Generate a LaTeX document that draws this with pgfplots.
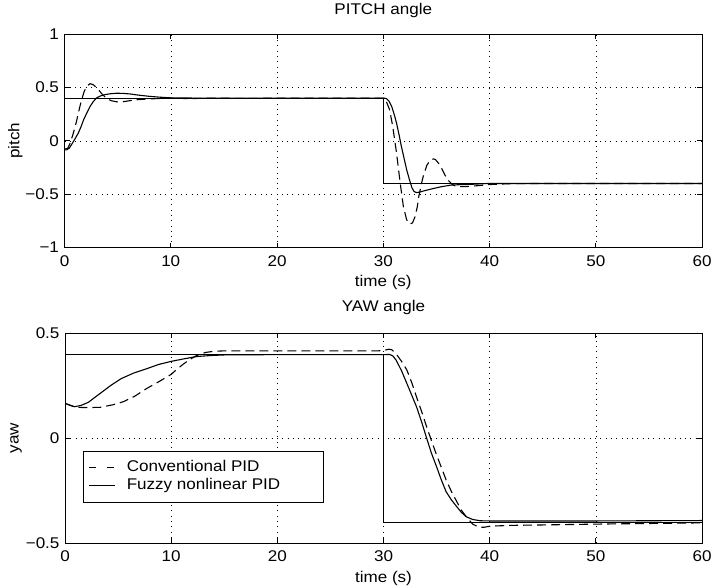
\documentclass[border=0pt]{standalone}
\usepackage{fontspec}
\setmainfont{Liberation Sans}[FakeStretch=1.1]
\usepackage{pgfplots}
\pgfplotsset{compat=1.18}

\pgfplotsset{
  ctrl/.style={
    scale only axis, xmin=0, xmax=60,
    xtick={0,10,20,30,40,50,60}, xticklabels={0,10,20,30,40,50,60},
    grid=major,
    major grid style={black, line width=0.5pt, dash pattern=on 0.8pt off 4.5pt},
    axis line style={black, line width=0.8pt},
    tick style={black, line width=0.8pt}, major tick length=5pt,
    tick align=inside,
    ticklabel style={font=\fontsize{15.5}{17}\selectfont},
    xticklabel style={yshift=-4.5pt},
    yticklabel style={xshift=-2pt},
    label style={font=\fontsize{15.5}{17}\selectfont},
    title style={font=\fontsize{15.5}{17}\selectfont, anchor=center},
    xlabel={time (s)},
    xlabel style={anchor=center},
    ylabel style={anchor=center, at={(axis description cs:-0.0769,0.5)}},
  },
  refline/.style={black, line width=0.8pt},
  pid/.style={black, line width=1.1pt, dash pattern=on 9pt off 5pt},
  fuzzy/.style={black, line width=1.1pt},
}

\begin{document}
\begin{tikzpicture}
\useasboundingbox (0pt,0pt) rectangle (714pt,-586pt);

% ---------- pitch channel ----------
\begin{axis}[ctrl,
  at={(64.5pt,-247.5pt)}, anchor=south west,
  width=637.5pt, height=213.5pt,
  ymin=-1, ymax=1,
  ytick={-1,-0.5,0,0.5,1}, yticklabels={−1,−0.5,0,0.5,1},
  ylabel={pitch},
  title={PITCH angle},
  title style={at={(axis description cs:0.5,1.08)}},
  xlabel style={at={(axis description cs:0.5,-0.1616)}},
]
\addplot[refline] coordinates {(0,0.4) (30,0.4) (30,-0.4) (60,-0.4)};
\addplot[pid] coordinates {
 (0,-0.08) (0.3,-0.07) (0.5,-0.03) (0.8,0.06) (1.1,0.17) (1.4,0.30) (1.6,0.38)
 (1.85,0.46) (2.1,0.51) (2.4,0.535) (2.7,0.525) (3.0,0.50) (3.3,0.465) (3.6,0.43)
 (4.0,0.395) (4.4,0.375) (4.9,0.365) (5.3,0.363) (5.8,0.37) (6.3,0.378) (7.0,0.386)
 (8,0.392) (9,0.396) (10,0.398) (12,0.395) (14,0.40) (16,0.397) (20,0.398) (25,0.40)
 (30,0.40) (30.2,0.39) (30.4,0.34) (30.6,0.29) (30.9,0.13) (31.25,-0.115) (31.6,-0.40)
 (31.9,-0.62) (32.2,-0.74) (32.5,-0.78) (32.75,-0.77) (33.0,-0.71) (33.2,-0.62)
 (33.35,-0.52) (33.6,-0.40) (33.8,-0.32) (34.1,-0.23) (34.4,-0.185) (34.7,-0.17)
 (34.9,-0.175) (35.2,-0.21) (35.5,-0.26) (35.8,-0.32) (36.1,-0.37) (36.5,-0.41)
 (36.9,-0.43) (37.7,-0.43) (39,-0.42) (40,-0.41) (42,-0.402) (45,-0.40) (60,-0.40)
};
\addplot[fuzzy] coordinates {
 (0,-0.085) (0.2,-0.085) (0.45,-0.07) (0.7,-0.03) (1.0,0.02) (1.3,0.072) (1.55,0.13)
 (1.8,0.197) (2.1,0.26) (2.4,0.32) (2.7,0.365) (3.0,0.40) (3.4,0.42) (3.8,0.432)
 (4.3,0.44) (4.9,0.445) (5.5,0.444) (6.2,0.438) (7.0,0.427) (8.1,0.415) (9,0.408)
 (10,0.402) (12,0.40) (30,0.40) (30.3,0.395) (30.55,0.37) (30.8,0.32) (31.05,0.24)
 (31.25,0.166) (31.5,0.05) (31.7,-0.05) (31.95,-0.16) (32.2,-0.27) (32.45,-0.36)
 (32.7,-0.44) (32.9,-0.475) (33.1,-0.485) (33.4,-0.482) (33.8,-0.47) (34.6,-0.45)
 (35.5,-0.43) (36.4,-0.415) (37.5,-0.41) (38.3,-0.408) (39.9,-0.40) (60,-0.40)
};
\end{axis}

% ---------- yaw channel ----------
\begin{axis}[ctrl,
  at={(65pt,-543pt)}, anchor=south west,
  width=637pt, height=210pt,
  ymin=-0.5, ymax=0.5,
  ytick={-0.5,0,0.5}, yticklabels={−0.5,0,0.5},
  ylabel={yaw},
  title={YAW angle},
  title style={at={(axis description cs:0.5,1.095)}},
  xlabel style={at={(axis description cs:0.5,-0.1667)}},
  legend cell align=left,
  legend image code/.code={\draw[#1] (0pt,0pt) -- (26pt,0pt);},
  legend style={at={(axis description cs:0.0287,0.4395)}, anchor=north west,
    draw=black, line width=0.8pt, font=\fontsize{15.5}{17}\selectfont,
    inner xsep=5pt, inner ysep=8pt, row sep=0pt, column sep=9.5pt,
    nodes={inner sep=1.5pt, text height=11pt, text depth=3.5pt}},
]
\addplot[refline, forget plot] coordinates {(0,0.4) (30,0.4) (30,-0.4) (60,-0.4)};
\addplot[pid, forget plot] coordinates {
 (0,0.165) (0.4,0.158) (0.8,0.15) (1.1,0.146) (2,0.145) (3.3,0.146) (4.5,0.158)
 (5.5,0.173) (6.6,0.2) (7.7,0.236) (8.9,0.27) (10,0.303) (10.6,0.33) (11.2,0.354)
 (11.8,0.375) (12.4,0.393) (13.2,0.407) (14,0.413) (15,0.415) (20,0.415) (25,0.415)
 (29.5,0.415) (30.1,0.418) (30.5,0.423) (30.8,0.42) (31.2,0.40) (31.7,0.365)
 (32.2,0.324) (32.65,0.265) (33.1,0.197) (33.6,0.125) (34.06,0.054) (34.5,-0.01)
 (35,-0.081) (35.45,-0.14) (35.9,-0.20) (36.4,-0.255) (36.9,-0.303) (37.35,-0.345)
 (37.8,-0.375) (38.4,-0.41) (39,-0.425) (39.5,-0.425) (40,-0.42) (42,-0.416)
 (45,-0.414) (50,-0.41) (55,-0.407) (60,-0.404)
};
\addplot[fuzzy, forget plot] coordinates {
 (0,0.165) (0.4,0.157) (0.9,0.149) (1.5,0.155) (2.2,0.17) (3.3,0.212) (4.3,0.25)
 (5.3,0.283) (6.5,0.31) (7.7,0.33) (8.8,0.35) (10,0.365) (11.2,0.377) (12.4,0.388)
 (13.8,0.393) (15.2,0.396) (20,0.397) (30,0.397) (30.6,0.398) (30.9,0.39) (31.2,0.37)
 (31.7,0.32) (32.2,0.26) (32.65,0.205) (33.1,0.15) (33.6,0.075) (34.06,0.0)
 (34.5,-0.07) (35,-0.137) (35.45,-0.2) (35.9,-0.256) (36.4,-0.295) (36.9,-0.327)
 (37.35,-0.355) (37.8,-0.375) (38.4,-0.388) (39.1,-0.394) (40,-0.395) (50,-0.395)
 (60,-0.393)
};
\addlegendimage{black, line width=1.1pt, dash pattern=on 7pt off 11pt}
\addlegendimage{black, line width=1.1pt}
\legend{\makebox[190pt][l]{Conventional PID}, \makebox[190pt][l]{Fuzzy nonlinear PID}}
\end{axis}
\end{tikzpicture}
\end{document}
